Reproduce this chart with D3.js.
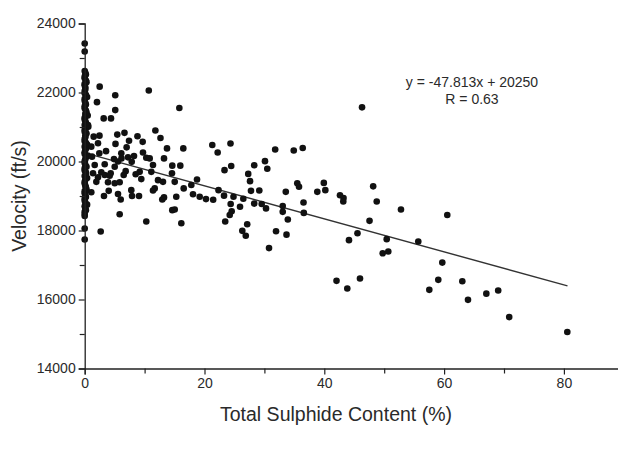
<!DOCTYPE html>
<html>
<head>
<meta charset="utf-8">
<script src="https://cdn.jsdelivr.net/npm/d3@7"></script>
<style>
html,body{margin:0;padding:0;background:#fff;}
svg{display:block;}
text{font-family:"Liberation Sans",Arial,Helvetica,sans-serif;fill:#2a2a2a;}
</style>
</head>
<body>
<svg id="chart" width="618" height="451"></svg>
<script>
// ---- data ----
const sulphide = [
0,0,0,0.2,0,0.3,0,0.1,0,0.4,0,0.2,0,0.3,0.5,0,0.2,0.6,0,0.3,0.1,0,0.4,0.2,0,0.5,0.1,0,0.3,0,0.2,0.4,0,0.1,0.3,0,0.2,0,0.4,0.1,0,0,0,0,
0.1,0,0.2,0,0.1,0,0.2,0,0.1,0,0.2,0.1,0,0.1,0,0.2,0,0.1,0,0.2,0,0.1,0,0.2,0,0.1,0,0.2,0,0.1,0,0.2,0,0.1,0,0.1,0,0.2,0,
2.5,2.05,5.1,5.1,3.17,4.39,10.7,15.8,0.55,11.8,12.65,6.64,5.44,8.81,9.68,7.4,2.47,1.5,1.1,5.14,7.0,13.74,16.46,21.3,22.2,24.34,31.8,34.9,36.4,46.3,
2.22,2.44,3.56,6.11,7.23,9.73,10.28,10.85,11.4,13.24,11.12,9.18,9.45,8.51,4.89,5.56,6.14,5.01,4.34,3.34,1.67,1.39,2.77,3.34,4.17,2.22,1.94,3.89,5.01,5.84,
6.84,6.51,12.24,13.07,14.62,15.96,14.57,15.03,17.8,18.75,16.53,18.08,19.2,20.25,1.1,3.22,5.56,6.01,7.78,7.9,9.07,11.69,11.4,12.95,13.24,15.29,14.62,15.03,16.13,10.28,
5.84,2.67,1.22,4.01,8.23,7.85,
23.34,24.46,28.3,30.1,30.48,27.3,27.6,27.76,29.15,33.57,35.49,35.78,38.83,39.92,40.17,
21.45,22.34,23.26,24.84,26.48,25.93,24.37,28.3,29.55,30.27,33.06,33.06,24.54,24.21,23.46,27.13,26.31,26.89,36.53,36.58,33.91,33.69,31.94,30.77,
42.62,43.21,43.17,45.54,44.12,47.55,48.16,48.75,52.8,60.53,50.42,55.69,49.75,50.68,59.7,45.96,43.84,42.04,59.03,57.53,63.04,63.99,67.05,69.03,70.87,80.57
];
const velocity = [
23420,23190,22620,22520,22410,22300,22210,22090,21980,21870,21760,21650,21540,21420,21330,21220,21120,21010,20920,20810,20700,20590,20490,20380,20270,20170,20060,19960,19850,19740,19630,19520,19410,19300,19190,19080,18970,18860,18750,18640,18540,18420,18060,17740,
22570,22460,22350,22250,22150,22040,21930,21820,21700,21600,21480,21380,21270,21170,21060,20960,20860,20750,20650,20540,20430,20330,20220,20120,20010,19910,19800,19690,19580,19470,19360,19250,19140,19030,18920,18810,18700,18590,18480,
22170,21720,21920,21490,21250,21250,22060,21550,21060,20900,20680,20830,20780,20730,20570,20600,20750,20720,20430,20510,20410,20380,20380,20480,20260,20520,20350,20320,20390,21570,
20530,20240,20300,20240,20120,20260,20110,20090,19900,20090,19700,19700,19490,19630,20070,20000,20090,19850,19660,19920,19900,19660,19690,19610,19590,19540,19410,19400,19370,19400,
19720,19610,19460,19410,19880,19880,19660,19410,19320,19480,19220,19050,18980,18910,19110,19000,19060,18900,19170,19000,19000,19220,19160,18900,18960,18980,18590,18610,18210,18260,
18470,17970,20140,19150,20160,19990,
19750,19870,19890,20010,19790,19640,19430,19150,19160,19120,19370,19270,19120,19380,19170,
18890,19170,19010,18980,18920,18690,18770,18780,18770,18640,18710,18540,18560,18450,18260,18180,17990,17850,18810,18510,18320,17880,17980,17490,
19020,18940,18840,17920,17720,18280,19280,18840,18610,18450,17750,17680,17340,17390,17070,16610,16320,16540,16570,16280,16530,15990,16170,16260,15490,15060
];
const xMajorTicks = [0, 20, 40, 60, 80];
const xMinorTicks = [10, 30, 50, 70];
const yMajorTicks = [14000, 16000, 18000, 20000, 22000, 24000];
const yMinorTicks = [15000, 17000, 19000, 21000, 23000];
const slope = -47.813, intercept = 20250;
const fitRange = [0, 80.6];
const eqLabel = "y = -47.813x + 20250";
const rLabel = "R = 0.63";
const xTitle = "Total Sulphide Content (%)";
const yTitle = "Velocity (ft/s)";

// ---- chart ----
const svg = d3.select("#chart");
const x = d3.scaleLinear().domain([0, 90]).range([84.7, 623.8]);
const y = d3.scaleLinear().domain([14000, 24000]).range([368.5, 23.5]);

const points = sulphide.map((s, i) => ({s, v: velocity[i]}));

// fit line
svg.append("line")
  .attr("x1", x(fitRange[0])).attr("y1", y(slope*fitRange[0]+intercept))
  .attr("x2", x(fitRange[1])).attr("y2", y(slope*fitRange[1]+intercept))
  .attr("stroke", "#333").attr("stroke-width", 1.4);

// points
svg.append("g").selectAll("circle").data(points).join("circle")
  .attr("cx", d => x(d.s)).attr("cy", d => y(d.v))
  .attr("r", 3.3).attr("fill", "#111");

// axes
const fontSize = "14px";
svg.append("g").attr("transform", `translate(0,${y(14000)})`)
  .call(d3.axisBottom(x).tickValues(xMajorTicks).tickSize(6).tickPadding(4).tickFormat(d3.format("d")));
svg.append("g").attr("transform", `translate(0,${y(14000)})`)
  .call(d3.axisBottom(x).tickValues(xMinorTicks).tickSize(5).tickFormat(""))
  .select(".domain").remove();
svg.append("g").attr("transform", `translate(${x(0)},0)`)
  .call(d3.axisLeft(y).tickValues(yMajorTicks).tickSize(6).tickPadding(3).tickFormat(d3.format("d")));
svg.append("g").attr("transform", `translate(${x(0)},0)`)
  .call(d3.axisLeft(y).tickValues(yMinorTicks).tickSize(5).tickFormat(""))
  .select(".domain").remove();

svg.selectAll(".domain").attr("stroke", "#222").attr("stroke-width", 1.3);
svg.selectAll(".tick line").attr("stroke", "#222").attr("stroke-width", 1.2);
svg.selectAll(".tick text").attr("font-size", fontSize)
  .attr("font-family", '"Liberation Sans",Arial,sans-serif').attr("fill", "#2a2a2a");

// titles
svg.append("text").attr("x", 336).attr("y", 421).attr("text-anchor", "middle")
  .attr("font-size", "19.5px").text(xTitle);
svg.append("text").attr("transform", "translate(26,196) rotate(-90)")
  .attr("text-anchor", "middle").attr("font-size", "19.5px").text(yTitle);

// equation
svg.append("text").attr("x", 472).attr("y", 87).attr("text-anchor", "middle")
  .attr("font-size", "14px").text(eqLabel);
svg.append("text").attr("x", 472).attr("y", 104).attr("text-anchor", "middle")
  .attr("font-size", "14px").text(rLabel);
</script>
</body>
</html>
